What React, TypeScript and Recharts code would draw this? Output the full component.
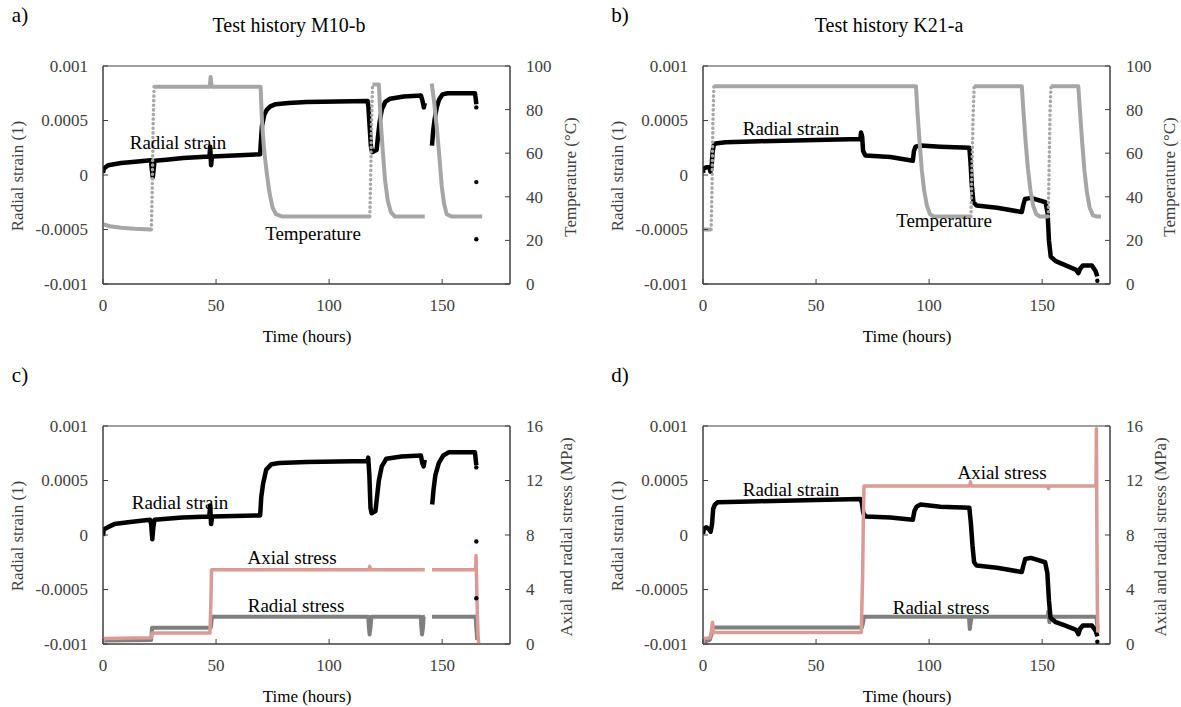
import React from "react";
import { ComposedChart, Line, XAxis, YAxis, ReferenceArea } from "recharts";

type Row = [number, number | null];

// tick labels
const timeTicks = [0, 50, 100, 150];
const strainTicks = [-0.001, -0.0005, 0, 0.0005, 0.001];
const tempTicks = [0, 20, 40, 60, 80, 100];
const stressTicks = [0, 4, 8, 12, 16];

// a) M10-b : temperature (°C) and radial strain vs time (h)
const tempM10: Row[] = [
  [0, 27.5], [3, 26.5], [8, 25.8], [14, 25.3], [21.4, 25], [21.8, null], [22.6, 90.5],
  [47.2, 90.5], [47.6, 95], [48.1, 90.5], [69.7, 90.5], [70.3, 75], [71.2, 62], [72.3, 52],
  [73.6, 42], [75, 35], [76.5, 32], [79, 31], [118, 31], [118.4, null], [119.2, 91.5],
  [122, 91.5], [122.8, 75], [123.8, 60], [124.8, 47], [126, 38], [127.3, 33], [129, 31],
  [142.3, 31], [143.8, null], [145.4, 92], [146.5, 83], [147.6, 72], [148.8, 58], [149.8, 45],
  [150.8, 37], [152, 32], [154, 31], [167.7, 31],
];
// fast heating steps, drawn as sparse points
const riseM10: Row[] = [
  [21.4, 25], [21.8, 45], [22.2, 75], [22.6, 90.5], [23, null],
  [118, 31], [118.4, 50], [118.8, 75], [119.2, 91.5],
];
const strainM10: Row[] = [
  [0, 0.00002], [0.4, 0.00006], [2.3, 0.00009], [8, 0.00011], [13, 0.00012], [21.2, 0.000135],
  [21.6, 0.00005], [22, -0.00002], [22.4, 0.00005], [22.8, 0.00013], [28, 0.00014], [35.5, 0.000155],
  [47.1, 0.00017], [47.4, 0.00026], [47.8, 0.00009], [48.2, 0.00017], [58, 0.00018], [69.5, 0.00019],
  [69.8, 0.0003], [70.3, 0.00045], [71.3, 0.00055], [72.5, 0.0006], [74, 0.00063], [76.4, 0.00065],
  [82, 0.00066], [90, 0.00067], [117, 0.00068], [117.4, 0.00062], [117.9, 0.00045], [118.5, 0.00026],
  [119, 0.00021], [121, 0.00023], [121.6, 0.00035], [122.3, 0.00048], [123.3, 0.0006], [124.8, 0.00067],
  [127, 0.0007], [133, 0.00072], [140.6, 0.00073], [141.3, 0.00068], [141.9, 0.00062], [142.3, 0.00066],
  [143.8, null], [145.5, 0.00027], [146, 0.0004], [146.6, 0.0005], [147.6, 0.00062], [148.6, 0.00069],
  [150.2, 0.00074], [152.4, 0.00075], [164.5, 0.00075], [164.9, 0.00069], [165.1, 0.00065],
];
const dotsM10: Row[] = [[165.1, 0.00062], [165.1, -0.000065], [165.1, -0.00059]];

// b) K21-a
const tempK21: Row[] = [
  [0, 25], [3.6, 25], [4, null], [4.8, 90.7], [94.2, 90.7], [94.9, 78], [95.8, 65],
  [96.8, 52], [97.8, 43], [99, 36], [100.4, 32], [102, 31], [118.5, 31], [118.9, null],
  [119.9, 90.7], [141, 90.7], [141.8, 78], [142.7, 65], [143.7, 53], [144.8, 43], [146, 36],
  [147.4, 32], [149, 31], [152.7, 31], [153.1, null], [153.9, 90.7], [166, 90.7],
  [166.8, 78], [167.7, 65], [168.7, 52], [169.8, 42], [171, 35], [172.5, 31.5], [174, 31], [176, 31],
];
const riseK21: Row[] = [
  [3.6, 25], [4, 45], [4.4, 75], [4.8, 90.7], [5, null],
  [118.5, 31], [118.9, 50], [119.4, 75], [119.9, 90.7], [120.2, null],
  [152.7, 31], [153.1, 55], [153.5, 80], [153.9, 90.7],
];
const strainK21: Row[] = [
  [0, 0.00002], [0.3, 0.00006], [1.5, 0.00007], [2.8, 0.00007], [3.3, 0.00003], [3.8, 0.00008],
  [4.2, 0.0002], [4.7, 0.00027], [5.5, 0.00029], [10, 0.0003], [25, 0.00031], [50, 0.00032],
  [69.6, 0.00033], [69.9, 0.00039], [70.4, 0.00035], [70.8, 0.00022], [71.8, 0.00018], [82.9, 0.000165],
  [92.8, 0.00013], [93.3, 0.00022], [94, 0.00026], [96.2, 0.00027], [105, 0.00026], [117.8, 0.00025],
  [118.3, 0.00012], [118.9, -0.0001], [119.6, -0.00025], [121, -0.00028], [130, -0.0003], [141, -0.00034],
  [141.6, -0.00028], [142.4, -0.00022], [145, -0.00021], [151.5, -0.00025], [152.4, -0.00035],
  [153, -0.0006], [153.8, -0.00075], [156, -0.00079], [159.4, -0.00082], [165, -0.00087], [166, -0.0009],
  [166.8, -0.00086], [168, -0.00083], [172, -0.00083], [173.6, -0.00088], [174.4, -0.00093],
];
const dotsK21: Row[] = [[174.4, -0.00097]];

// c) M10-b : stresses (MPa) and radial strain
const strainM10c: Row[] = [
  [0, -0.00001], [0.3, 0.00005], [2, 0.00007], [5, 0.0001], [12, 0.00012], [20.8, 0.00014],
  [21.3, 0.0001], [21.8, -0.00004], [22.3, 0.00008], [22.8, 0.00014], [35, 0.00016], [47, 0.00017],
  [47.4, 0.00027], [47.8, 0.0001], [48.3, 0.00017], [69.5, 0.00018], [70, 0.00035], [70.8, 0.00047],
  [72.2, 0.0006], [74.5, 0.00065], [78, 0.00066], [90, 0.00067], [117, 0.00068], [117.3, 0.00071],
  [117.8, 0.00055], [118.3, 0.00025], [118.8, 0.0002], [120.5, 0.00022], [121.2, 0.00035], [122, 0.0005],
  [123.3, 0.00063], [125.3, 0.0007], [132, 0.00072], [140.6, 0.00073], [141.2, 0.00066], [141.8, 0.00063],
  [142.3, 0.00069], [143.8, null], [145.6, 0.00028], [146.2, 0.00042], [147, 0.00055], [148.5, 0.00066],
  [150.5, 0.00073], [153, 0.00076], [164.5, 0.00076], [164.9, 0.00068], [165.1, 0.00064],
];
const dotsM10c: Row[] = [[165.1, 0.00062], [165.1, -0.00006], [165.1, -0.00058]];
const axialM10: Row[] = [
  [0, 0.15], [0.5, 0.4], [21.3, 0.45], [21.7, 0.8], [47.3, 0.8], [47.7, 3], [48, 5.45], [117.6, 5.45],
  [118, 5.7], [118.4, 5.45], [142.3, 5.45], [143.8, null], [145.5, 5.45], [164.8, 5.45], [165, 6.5],
  [165.3, 4], [165.6, 2], [165.9, 0.5], [166.2, 0],
];
const radialM10: Row[] = [
  [0, 0.25], [21.3, 0.3], [21.7, 1.2], [47.7, 1.2], [48.2, 2], [117.3, 2], [117.6, 1.2], [117.9, 0.7],
  [118.3, 1.2], [118.7, 2], [140.5, 2], [140.8, 1.2], [141.1, 0.7], [141.5, 1.2], [141.8, 2], [142.3, 2],
  [143.8, null], [145.5, 2], [164.8, 2], [165.1, 1.2], [165.5, 0.3],
];

// d) K21-a
const strainK21d: Row[] = [
  [0, 0.00001], [0.4, 0.00006], [1.5, 0.00007], [2.8, 0.00005], [3.4, 0.00003], [4, 0.0001],
  [4.5, 0.00024], [5.3, 0.00028], [6.5, 0.0003], [25, 0.00031], [50, 0.00032], [69.6, 0.00033],
  [70.2, 0.0003], [70.9, 0.0002], [72, 0.00017], [82.9, 0.00016], [92.8, 0.00014], [93.5, 0.00022],
  [94.5, 0.00026], [96.2, 0.00028], [105, 0.00026], [117.8, 0.00025], [118.5, 0.0001], [119.2, -0.0001],
  [119.9, -0.00025], [121, -0.00028], [130, -0.0003], [141, -0.00034], [141.7, -0.00028], [142.5, -0.00022],
  [145, -0.00021], [151.3, -0.00025], [152.3, -0.00035], [153, -0.0006], [153.7, -0.00076], [156, -0.0008],
  [160, -0.00083], [165, -0.00087], [166, -0.00091], [166.8, -0.00086], [168, -0.00083], [172, -0.00083],
  [173.7, -0.00088], [174.4, -0.00093],
];
const dotsK21d: Row[] = [[174.4, -0.00098]];
const axialK21: Row[] = [
  [0, 0], [0.4, 0.4], [3, 0.45], [3.6, 0.8], [4.2, 1.6], [4.6, 0.85], [70, 0.85], [70.3, 3], [70.6, 5],
  [70.9, 9], [71.2, 11.6], [118, 11.6], [118.3, 11.9], [118.6, 11.6], [152.5, 11.6], [152.8, 11.4],
  [153.1, 11.6], [173.8, 11.6], [174, 15.8], [174.2, 8], [174.4, 3], [174.6, 0.85],
];
const radialK21: Row[] = [
  [0, 0.15], [3, 0.3], [4.3, 1], [4.8, 1.22], [70.3, 1.22], [70.8, 1.6], [71.2, 2], [117.6, 2],
  [118, 1.1], [118.4, 1.6], [118.8, 2], [152.4, 2], [152.8, 2.4], [153.2, 1.6], [153.6, 2], [174, 2],
  [174.5, 1.1],
];

const FONT = '"Liberation Serif", "Times New Roman", serif';
const AXIS = "#404040";
const TXT = "#404040";
const BLACK = "#000000";
const TEMP = "#a6a6a6";
const AXIAL = "#da9a95";
const RADIAL = "#7f7f7f";

const toPts = (rows: Row[]) => rows.map(([t, v]) => ({ t, v }));

const LeftTick = (p: any) => {
  const ax = p.x + 15;
  return (
    <g>
      <line x1={ax} x2={ax + 5} y1={p.y} y2={p.y} stroke={AXIS} />
      <text x={p.x} y={p.y} dy="0.35em" textAnchor="end" fontSize={17} fill={TXT} fontFamily={FONT}>
        {p.payload.value}
      </text>
    </g>
  );
};

const RightTick = (p: any) => {
  const ax = p.x - 16;
  return (
    <g>
      <line x1={ax} x2={ax - 5} y1={p.y} y2={p.y} stroke={AXIS} />
      <text x={p.x} y={p.y} dy="0.35em" textAnchor="start" fontSize={17} fill={TXT} fontFamily={FONT}>
        {p.payload.value}
      </text>
    </g>
  );
};

const BottomTick = (p: any) => {
  const ay = p.y - 15;
  return (
    <g>
      <line x1={p.x} x2={p.x} y1={ay} y2={ay - 5} stroke={AXIS} />
      <text x={p.x} y={p.y} dy="0.71em" textAnchor="middle" fontSize={17} fill={TXT} fontFamily={FONT}>
        {p.payload.value}
      </text>
    </g>
  );
};

const Txt = ({ x, y, size, color, rotate, children }: any) => (
  <div
    style={{
      position: "absolute",
      left: x,
      top: y,
      transform: `translate(-50%, -50%)${rotate ? ` rotate(${rotate}deg)` : ""}`,
      fontSize: size,
      color,
      lineHeight: 1,
      whiteSpace: "nowrap",
      fontFamily: FONT,
    }}
  >
    {children}
  </div>
);

type Series = { rows: Row[]; color: string; width: number; axis: "l" | "r"; dotted?: boolean };
type Note = { text: string; x: number; y: number };

interface PanelProps {
  left: number;
  top: number;
  letter: string;
  title?: string;
  rightLabel: string;
  rightTicks: number[];
  rightMax: number;
  series: Series[];
  dots: Row[];
  notes: Note[];
  rightTitleX: number;
}

const Panel = ({ left, top, letter, title, rightLabel, rightTicks, rightMax, series, dots, notes, rightTitleX }: PanelProps) => (
  <div style={{ position: "absolute", left, top, width: 590, height: 360 }}>
    <ComposedChart width={590} height={360} margin={{ top: 66, right: 20, bottom: 36, left: 8 }}>
      <XAxis
        xAxisId="x"
        dataKey="t"
        type="number"
        domain={[0, 180]}
        ticks={timeTicks}
        allowDataOverflow
        height={40}
        tickSize={0}
        tickMargin={15}
        tickLine={false}
        tick={<BottomTick />}
        stroke={AXIS}
      />
      <YAxis
        yAxisId="l"
        type="number"
        domain={[-0.001, 0.001]}
        ticks={strainTicks}
        allowDataOverflow
        width={95}
        tickSize={0}
        tickMargin={15}
        tickLine={false}
        tick={<LeftTick />}
        stroke={AXIS}
      />
      <YAxis
        yAxisId="r"
        orientation="right"
        type="number"
        domain={[0, rightMax]}
        ticks={rightTicks}
        allowDataOverflow
        width={60}
        tickSize={0}
        tickMargin={16}
        tickLine={false}
        tick={<RightTick />}
        stroke={AXIS}
      />
      <ReferenceArea
        xAxisId="x"
        yAxisId="l"
        x1={0}
        x2={180}
        y1={-0.001}
        y2={0.001}
        fill="none"
        stroke={AXIS}
        strokeWidth={1}
      />
      {series.map((s, i) => (
        <Line
          key={i}
          data={toPts(s.rows)}
          dataKey="v"
          xAxisId="x"
          yAxisId={s.axis}
          type="linear"
          stroke={s.color}
          strokeWidth={s.width}
          strokeLinejoin="round"
          strokeLinecap={s.dotted ? "round" : "butt"}
          strokeDasharray={s.dotted ? "0.1 4.5" : undefined}
          dot={false}
          activeDot={false}
          connectNulls={false}
          isAnimationActive={false}
        />
      ))}
      <Line
        data={toPts(dots)}
        dataKey="v"
        xAxisId="x"
        yAxisId="l"
        stroke="none"
        dot={{ r: 2.2, fill: BLACK, stroke: "none" }}
        activeDot={false}
        isAnimationActive={false}
      />
    </ComposedChart>
    <Txt x={20} y={15} size={21} color="#000">{letter}</Txt>
    {title && <Txt x={289} y={25} size={20} color="#000">{title}</Txt>}
    <Txt x={17} y={176} size={17} color={TXT} rotate={-90}>Radial strain (1)</Txt>
    <Txt x={rightTitleX} y={177} size={17} color={TXT} rotate={-90}>{rightLabel}</Txt>
    <Txt x={307} y={336} size={17} color="#000">Time (hours)</Txt>
    {notes.map((n, i) => (
      <Txt key={i} x={n.x} y={n.y} size={19} color="#000">{n.text}</Txt>
    ))}
  </div>
);

export default function App() {
  return (
    <div style={{ position: "absolute", left: 0, top: 0, width: 1181, height: 707, background: "#fff", fontFamily: FONT }}>
      <Panel
        left={0}
        top={0}
        letter="a)"
        title="Test history M10-b"
        rightLabel="Temperature (°C)"
        rightTicks={tempTicks}
        rightMax={100}
        rightTitleX={570}
        series={[
          { rows: strainM10, color: BLACK, width: 4.5, axis: "l" },
          { rows: tempM10, color: TEMP, width: 4, axis: "r" },
          { rows: riseM10, color: TEMP, width: 3.5, axis: "r", dotted: true },
        ]}
        dots={dotsM10}
        notes={[
          { text: "Radial strain", x: 178, y: 142 },
          { text: "Temperature", x: 313, y: 233 },
        ]}
      />
      <Panel
        left={600}
        top={0}
        letter="b)"
        title="Test history K21-a"
        rightLabel="Temperature (°C)"
        rightTicks={tempTicks}
        rightMax={100}
        rightTitleX={569}
        series={[
          { rows: strainK21, color: BLACK, width: 4.5, axis: "l" },
          { rows: tempK21, color: TEMP, width: 4, axis: "r" },
          { rows: riseK21, color: TEMP, width: 3.5, axis: "r", dotted: true },
        ]}
        dots={dotsK21}
        notes={[
          { text: "Radial strain", x: 191, y: 128 },
          { text: "Temperature", x: 344, y: 220 },
        ]}
      />
      <Panel
        left={0}
        top={360}
        letter="c)"
        rightLabel="Axial and radial stress (MPa)"
        rightTicks={stressTicks}
        rightMax={16}
        rightTitleX={566}
        series={[
          { rows: radialM10, color: RADIAL, width: 4, axis: "r" },
          { rows: strainM10c, color: BLACK, width: 4.5, axis: "l" },
          { rows: axialM10, color: AXIAL, width: 3.5, axis: "r" },
        ]}
        dots={dotsM10c}
        notes={[
          { text: "Radial strain", x: 180, y: 142 },
          { text: "Axial stress", x: 292, y: 197 },
          { text: "Radial stress", x: 296, y: 245 },
        ]}
      />
      <Panel
        left={600}
        top={360}
        letter="d)"
        rightLabel="Axial and radial stress (MPa)"
        rightTicks={stressTicks}
        rightMax={16}
        rightTitleX={560}
        series={[
          { rows: radialK21, color: RADIAL, width: 4, axis: "r" },
          { rows: strainK21d, color: BLACK, width: 4.5, axis: "l" },
          { rows: axialK21, color: AXIAL, width: 3.5, axis: "r" },
        ]}
        dots={dotsK21d}
        notes={[
          { text: "Radial strain", x: 191, y: 129 },
          { text: "Axial stress", x: 402, y: 112 },
          { text: "Radial stress", x: 341, y: 247 },
        ]}
      />
    </div>
  );
}
